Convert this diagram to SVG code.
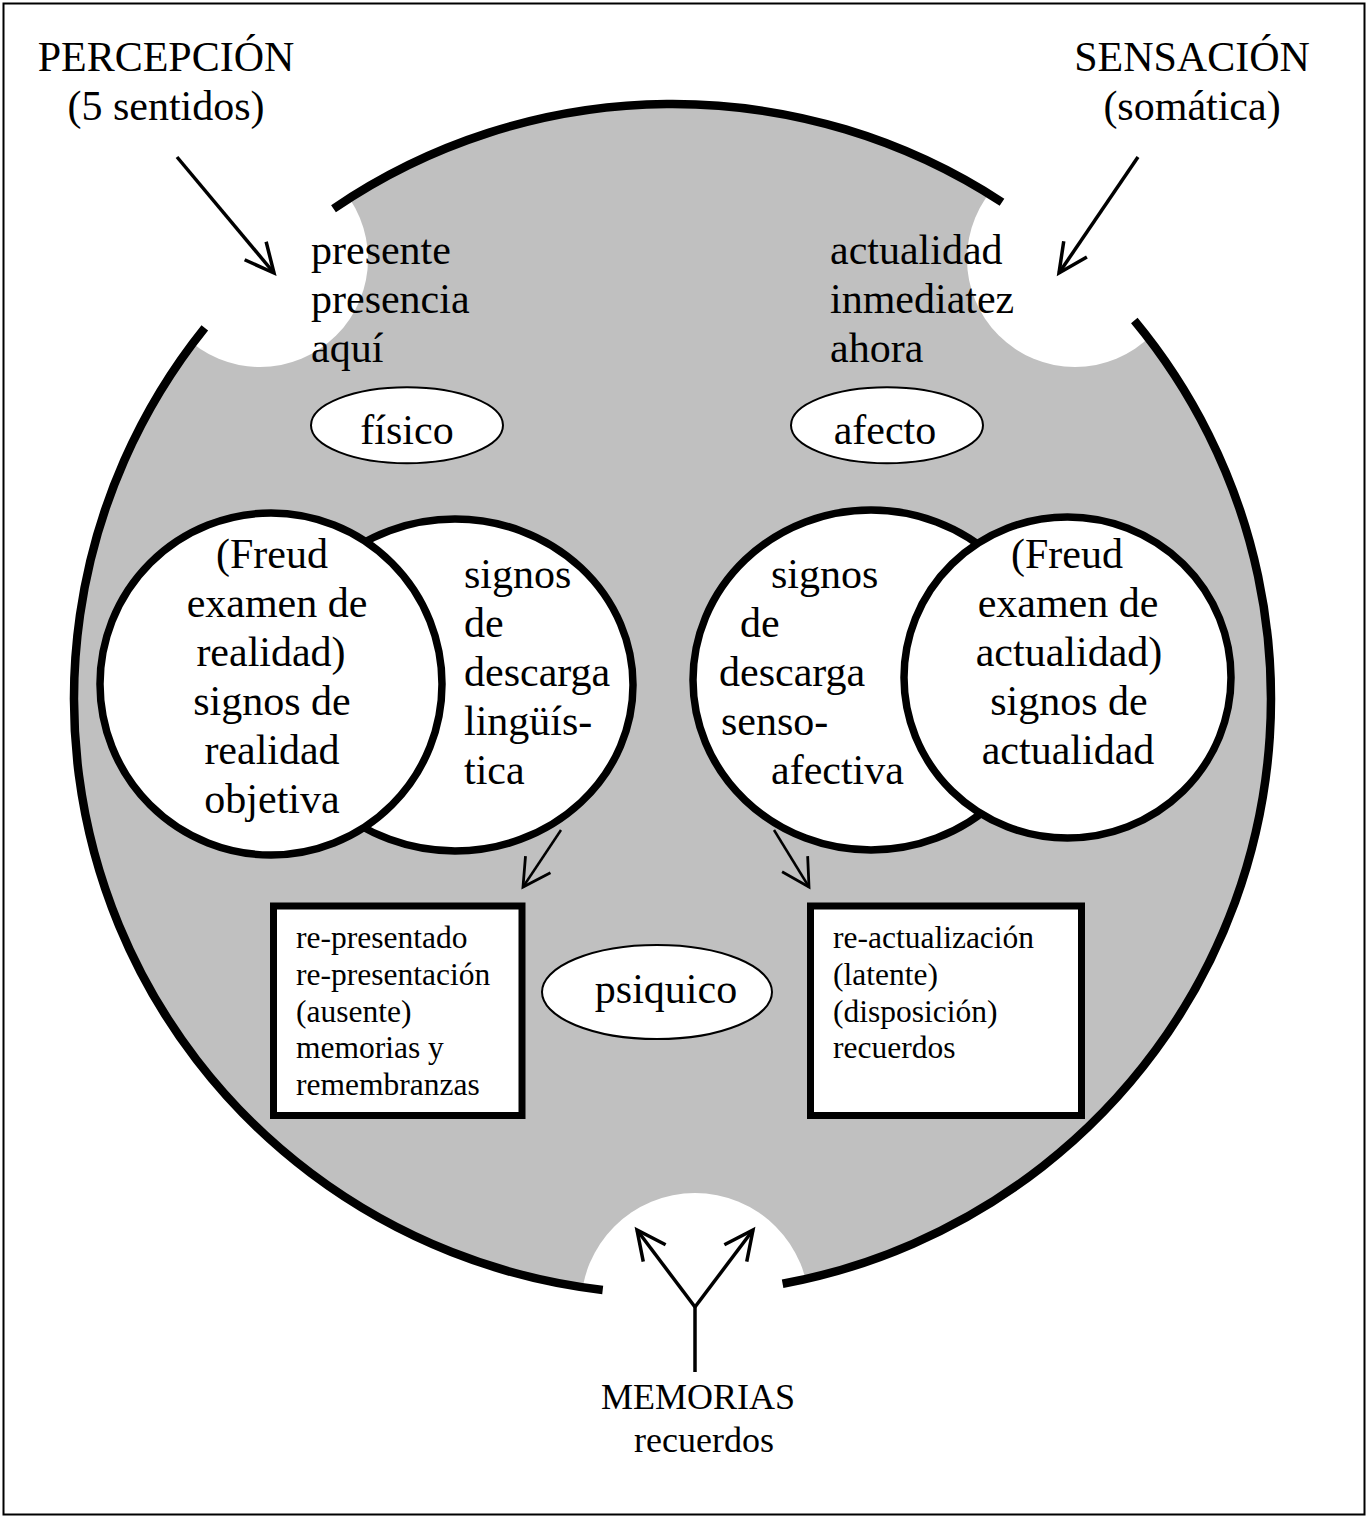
<svg xmlns="http://www.w3.org/2000/svg" width="1368" height="1518" viewBox="0 0 1368 1518">
<style>
  text { font-family: "Liberation Serif", "Times New Roman", serif; fill: #000; }
  .big { font-size: 42px; }
  .mid { font-size: 36px; }
  .small { font-size: 31.5px; }
  .c { text-anchor: middle; }
  .venn { fill: #fff; stroke: #000; stroke-width: 7.5; }
  .oval { fill: #fff; stroke: #000; stroke-width: 2; }
  .box { fill: #fff; stroke: #000; stroke-width: 7; }
  .rim { fill: none; stroke: #000; stroke-width: 8.5; stroke-linecap: butt; }
  .notch { fill: #fff; stroke: none; }
  .arrow { fill: none; stroke: #000; stroke-width: 3.5; }
  .arrow2 { fill: none; stroke: #000; stroke-width: 2.5; }
</style>
<defs>
  <marker id="ah" markerUnits="userSpaceOnUse" markerWidth="50" markerHeight="50" refX="0" refY="0" viewBox="-40 -25 50 50" orient="auto" overflow="visible">
    <path d="M -29 -14 L 0 0 L -29 14" fill="none" stroke="#000" stroke-width="3.5" stroke-linejoin="miter"/>
  </marker>
  <marker id="ah2" markerUnits="userSpaceOnUse" markerWidth="50" markerHeight="50" refX="0" refY="0" viewBox="-40 -25 50 50" orient="auto" overflow="visible">
    <path d="M -27 -15 L 0 0 L -27 15" fill="none" stroke="#000" stroke-width="2.8" stroke-linejoin="miter"/>
  </marker>
</defs>

<rect x="3.5" y="3.5" width="1361" height="1511" fill="#fff" stroke="#000" stroke-width="2"/>

<g id="mente">
  <ellipse cx="672.5" cy="699" rx="598.5" ry="595" fill="#c0c0c0"/>
  <circle class="notch" cx="260" cy="259" r="108"/>
  <circle class="notch" cx="1075" cy="259" r="108"/>
  <circle class="notch" cx="695" cy="1307" r="114"/>
  <path class="rim" d="M 333.5 208.7 A 598.5 595 0 0 1 1002 202.3"/>
  <path class="rim" d="M 1134.3 320.5 A 598.5 595 0 0 1 782.6 1283.8"/>
  <path class="rim" d="M 602.7 1290 A 598.5 595 0 0 1 204.8 327.8"/>
</g>

<g id="percepcion">
  <text class="big c" x="166" y="71">PERCEPCIÓN</text>
  <text class="big c" x="166" y="120">(5 sentidos)</text>
</g>
<g id="sensacion">
  <text class="big c" x="1192" y="71">SENSACIÓN</text>
  <text class="big c" x="1192" y="120">(somática)</text>
</g>

<g id="presente">
  <text class="big" x="311" y="264">presente</text>
  <text class="big" x="311" y="313">presencia</text>
  <text class="big" x="311" y="362">aquí</text>
</g>
<g id="actualidad">
  <text class="big" x="830" y="264">actualidad</text>
  <text class="big" x="830" y="313">inmediatez</text>
  <text class="big" x="830" y="362">ahora</text>
</g>

<g id="fisico">
  <ellipse class="oval" cx="407" cy="425.3" rx="96" ry="38"/>
  <text class="big c" x="407" y="444">físico</text>
</g>
<g id="afecto">
  <ellipse class="oval" cx="887" cy="425.3" rx="96" ry="38"/>
  <text class="big c" x="885" y="444">afecto</text>
</g>

<g id="descarga-linguistica">
  <ellipse class="venn" cx="455" cy="685" rx="178" ry="166"/>
  <text class="big" x="464" y="588">signos</text>
  <text class="big" x="464" y="637">de</text>
  <text class="big" x="464" y="686">descarga</text>
  <text class="big" x="464" y="735">lingüís-</text>
  <text class="big" x="464" y="784">tica</text>
</g>
<g id="examen-realidad">
  <circle class="venn" cx="271" cy="684" r="171"/>
  <text class="big c" x="272" y="568">(Freud</text>
  <text class="big c" x="277" y="617">examen de</text>
  <text class="big c" x="271" y="666">realidad)</text>
  <text class="big c" x="272" y="715">signos de</text>
  <text class="big c" x="272" y="764">realidad</text>
  <text class="big c" x="272" y="813">objetiva</text>
</g>

<g id="descarga-sensoafectiva">
  <ellipse class="venn" cx="871" cy="680" rx="178" ry="170"/>
  <text class="big" x="771" y="588">signos</text>
  <text class="big" x="740" y="637">de</text>
  <text class="big" x="719" y="686">descarga</text>
  <text class="big" x="721" y="735">senso-</text>
  <text class="big" x="771" y="784">afectiva</text>
</g>
<g id="examen-actualidad">
  <ellipse class="venn" cx="1067.5" cy="677.5" rx="163.5" ry="160.5"/>
  <text class="big c" x="1067" y="568">(Freud</text>
  <text class="big c" x="1068" y="617">examen de</text>
  <text class="big c" x="1069" y="666">actualidad)</text>
  <text class="big c" x="1069" y="715">signos de</text>
  <text class="big c" x="1068" y="764">actualidad</text>
</g>

<g id="representado">
  <rect class="box" x="273.5" y="906" width="248.5" height="209.5"/>
  <text class="small" x="296" y="948">re-presentado</text>
  <text class="small" x="296" y="985">re-presentación</text>
  <text class="small" x="296" y="1022">(ausente)</text>
  <text class="small" x="296" y="1058">memorias y</text>
  <text class="small" x="296" y="1095">remembranzas</text>
</g>
<g id="psiquico">
  <ellipse class="oval" cx="657" cy="992" rx="115" ry="47"/>
  <text class="big c" x="666" y="1003">psiquico</text>
</g>
<g id="reactualizacion">
  <rect class="box" x="810.5" y="906" width="271" height="209.5"/>
  <text class="small" x="833" y="948">re-actualización</text>
  <text class="small" x="833" y="985">(latente)</text>
  <text class="small" x="833" y="1022">(disposición)</text>
  <text class="small" x="833" y="1058">recuerdos</text>
</g>

<g id="memorias">
  <text class="mid c" x="698" y="1409">MEMORIAS</text>
  <text class="mid c" x="704" y="1452">recuerdos</text>
</g>

<g id="connectors">
  <line class="arrow" x1="177" y1="157" x2="274" y2="273" marker-end="url(#ah)"/>
  <line class="arrow" x1="1138" y1="157" x2="1059" y2="273" marker-end="url(#ah)"/>
  <line class="arrow2" x1="561" y1="830" x2="523" y2="887" marker-end="url(#ah2)"/>
  <line class="arrow2" x1="774" y1="830" x2="809" y2="887" marker-end="url(#ah2)"/>
  <line class="arrow" x1="695" y1="1372" x2="695" y2="1307"/>
  <line class="arrow" x1="695" y1="1307" x2="637" y2="1230" marker-end="url(#ah)"/>
  <line class="arrow" x1="695" y1="1307" x2="753" y2="1230" marker-end="url(#ah)"/>
</g>
</svg>
